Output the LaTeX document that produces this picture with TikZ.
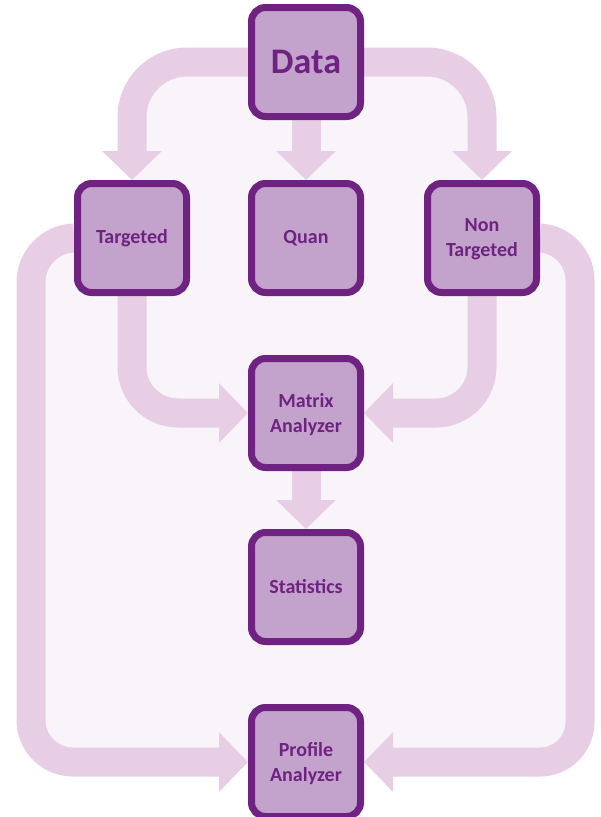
\documentclass[tikz,border=0pt]{standalone}
\usepackage{fontspec}
\setmainfont{Carlito}
\usetikzlibrary{arrows.meta}
\definecolor{boxfill}{HTML}{C3A3CB}
\definecolor{boxline}{HTML}{6F2282}
\definecolor{arrowpink}{HTML}{E8CEE4}
\definecolor{bgpink}{HTML}{F9F4F9}
\pgfdeclarelayer{back}
\pgfdeclarelayer{flow}
\pgfsetlayers{back,flow,main}
\tikzset{
  stepbox/.style={draw=boxline, fill=boxfill, line width=7pt, rounded corners=14pt,
    minimum width=109pt, minimum height=109pt, text=boxline, align=center,
    font=\bfseries\fontsize{20}{25}\selectfont, inner sep=0pt},
  twoline/.style={text depth=0pt},
  bigflow/.style={draw=arrowpink, line width=29pt, rounded corners=44pt,
    -{Triangle[width=58pt,length=29pt]}},
}
\begin{document}
\begin{tikzpicture}[x=1pt,y=-1pt]
\useasboundingbox (0,0) rectangle (601,817);
% nodes
\node[stepbox, font=\bfseries\fontsize{36}{42}\selectfont] (data) at (306,62) {Data};
\node[stepbox] (tgt) at (132,238) {Targeted};
\node[stepbox] (quan) at (306,238) {Quan};
\node[stepbox, twoline] (nont) at (482,238) {Non\\Targeted};
\node[stepbox, twoline] (mat) at (306,413) {Matrix\\Analyzer};
\node[stepbox] (stat) at (306,587) {Statistics};
\node[stepbox, twoline] (prof) at (306,762) {Profile\\Analyzer};
\coordinate (lt) at (31,240);
\coordinate (lb) at (31,762);
\coordinate (rt) at (580,240);
\coordinate (rb) at (580,762);
% background interior
\begin{pgfonlayer}{back}
\fill[bgpink, rounded corners=44pt] (31,238) -- (31,762) -- (580,762) -- (580,238) -- (482,238) -- (482,64) -- (132,64) -- (132,238) -- cycle;
\end{pgfonlayer}
% arrows
\begin{pgfonlayer}{flow}
\draw[bigflow, rounded corners=55pt] (data.west) -| (tgt.north);
\draw[bigflow] (data.south) -- (quan.north);
\draw[bigflow, rounded corners=55pt] (data.east) -| (nont.north);
\draw[bigflow, rounded corners=46pt] (tgt.south) |- (mat.west);
\draw[bigflow, rounded corners=46pt] (nont.south) |- (mat.east);
\draw[bigflow] (mat.south) -- (stat.north);
\draw[bigflow, rounded corners=42pt] (tgt.west) -- (lt) -- (lb) -- (prof.west);
\draw[bigflow, rounded corners=40pt] (nont.east) -- (rt) -- (rb) -- (prof.east);
\end{pgfonlayer}
\end{tikzpicture}
\end{document}
